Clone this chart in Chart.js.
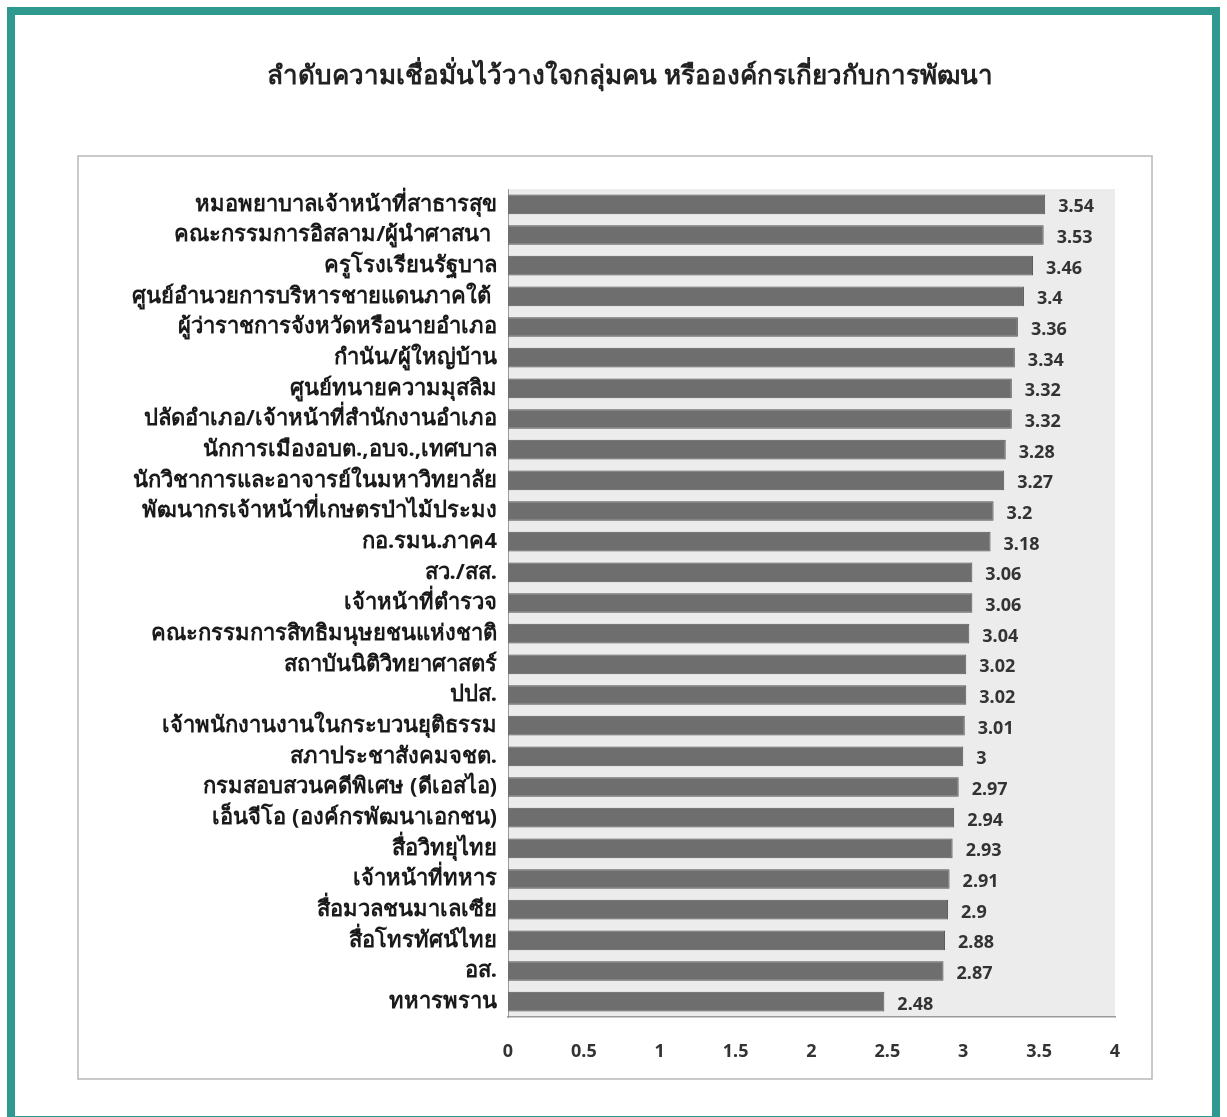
<!DOCTYPE html>
<html>
<head>
<meta charset="utf-8">
<script src="https://cdn.jsdelivr.net/npm/chart.js@4.4.0/dist/chart.umd.min.js"></script>
<style>
  html, body { margin: 0; padding: 0; background: #fff; }
  #wrap { width: 1227px; height: 1117px; position: relative; }
</style>
</head>
<body>
<div id="wrap"><canvas id="trustChart" width="1227" height="1117"></canvas></div>
<script>
// ชื่อกราฟ
const chartTitle = 'ลำดับความเชื่อมั่นไว้วางใจกลุ่มคน หรือองค์กรเกี่ยวกับการพัฒนา';

// กลุ่มคน / องค์กร (บนลงล่าง)
const groups = [
    'หมอพยาบาลเจ้าหน้าที่สาธารสุข',
    'คณะกรรมการอิสลาม/ผู้นำศาสนา ',
    'ครูโรงเรียนรัฐบาล',
    'ศูนย์อำนวยการบริหารชายแดนภาคใต้ ',
    'ผู้ว่าราชการจังหวัดหรือนายอำเภอ',
    'กำนัน/ผู้ใหญ่บ้าน',
    'ศูนย์ทนายความมุสลิม',
    'ปลัดอำเภอ/เจ้าหน้าที่สำนักงานอำเภอ',
    'นักการเมืองอบต.,อบจ.,เทศบาล',
    'นักวิชาการและอาจารย์ในมหาวิทยาลัย',
    'พัฒนากรเจ้าหน้าที่เกษตรป่าไม้ประมง',
    'กอ.รมน.ภาค4',
    'สว./สส.',
    'เจ้าหน้าที่ตำรวจ',
    'คณะกรรมการสิทธิมนุษยชนแห่งชาติ',
    'สถาบันนิติวิทยาศาสตร์',
    'ปปส.',
    'เจ้าพนักงานงานในกระบวนยุติธรรม',
    'สภาประชาสังคมจชต.',
    'กรมสอบสวนคดีพิเศษ (ดีเอสไอ)',
    'เอ็นจีโอ (องค์กรพัฒนาเอกชน)',
    'สื่อวิทยุไทย',
    'เจ้าหน้าที่ทหาร',
    'สื่อมวลชนมาเลเซีย',
    'สื่อโทรทัศน์ไทย',
    'อส.',
    'ทหารพราน'
];

// คะแนนความเชื่อมั่น
const trustScores = [3.54, 3.53, 3.46, 3.4, 3.36, 3.34, 3.32, 3.32, 3.28, 3.27, 3.2, 3.18,
    3.06, 3.06, 3.04, 3.02, 3.02, 3.01, 3, 2.97, 2.94, 2.93, 2.91, 2.9, 2.88, 2.87, 2.48];

// ค่าบนแกน x
const xTicks = [0, 0.5, 1, 1.5, 2, 2.5, 3, 3.5, 4];

const thaiFont = 'Tahoma, "Noto Sans", "DejaVu Sans", sans-serif';

// วาดกรอบ พื้นหลัง และชื่อกราฟ
const framePlugin = {
    id: 'frame',
    beforeDraw(chart) {
        const c = chart.ctx;
        const a = chart.chartArea;
        c.save();
        c.fillStyle = '#ffffff';
        c.fillRect(0, 0, chart.width, chart.height);
        // กรอบสีเขียว
        c.strokeStyle = '#2f9990';
        c.lineWidth = 8;
        c.strokeRect(11, 11, chart.width - 22, chart.height - 8);
        // กรอบกราฟ
        c.strokeStyle = '#b8b8b8';
        c.lineWidth = 1.5;
        c.strokeRect(78, 156, 1074, 923);
        // พื้นหลังพื้นที่กราฟ
        c.fillStyle = '#ececec';
        c.fillRect(a.left, a.top, a.right - a.left, a.bottom - a.top);
        // ชื่อกราฟ
        c.fillStyle = '#222';
        c.font = 'bold 26px ' + thaiFont;
        c.textAlign = 'center';
        c.textBaseline = 'middle';
        c.fillText(chartTitle, 630, 77);
        c.restore();
    },
    afterDatasetsDraw(chart) {
        const c = chart.ctx;
        const meta = chart.getDatasetMeta(0);
        c.save();
        c.fillStyle = '#333';
        c.font = 'bold 18px ' + thaiFont;
        c.textAlign = 'left';
        c.textBaseline = 'middle';
        meta.data.forEach((bar, i) => {
            c.fillText(String(trustScores[i]), bar.x + 13, bar.y + 3);
        });
        c.restore();
    }
};

const ctx = document.getElementById('trustChart').getContext('2d');

const trustChart = new Chart(ctx, {
    type: 'bar',
    data: {
        labels: groups,
        datasets: [{
            data: trustScores,
            backgroundColor: '#6e6e6e',
            borderColor: '#555555',
            borderWidth: 1,
            categoryPercentage: 0.64,
            barPercentage: 1
        }]
    },
    options: {
        indexAxis: 'y',
        responsive: false,
        animation: false,
        layout: {
            padding: { top: 189, right: 112, bottom: 0, left: 0 }
        },
        scales: {
            x: {
                min: 0,
                max: 4,
                afterBuildTicks(scale) {
                    scale.ticks = xTicks.map(v => ({ value: v }));
                },
                afterFit(scale) { scale.height = 100; },
                grid: { display: false, drawTicks: false },
                border: { display: true, color: '#9a9a9a', width: 1.5 },
                ticks: {
                    padding: 24,
                    color: '#333',
                    font: { size: 18, weight: 'bold', family: thaiFont },
                    callback: (value) => String(value)
                }
            },
            y: {
                afterFit(scale) { scale.width = 508; },
                grid: { display: false, drawTicks: false },
                border: { display: true, color: '#9a9a9a', width: 1 },
                ticks: {
                    padding: 11,
                    autoSkip: false,
                    color: '#1a1a1a',
                    font: { size: 22, weight: 'bold', family: thaiFont }
                }
            }
        },
        plugins: {
            legend: { display: false },
            tooltip: { enabled: false },
            title: { display: false }
        }
    },
    plugins: [framePlugin]
});
</script>
</body>
</html>
